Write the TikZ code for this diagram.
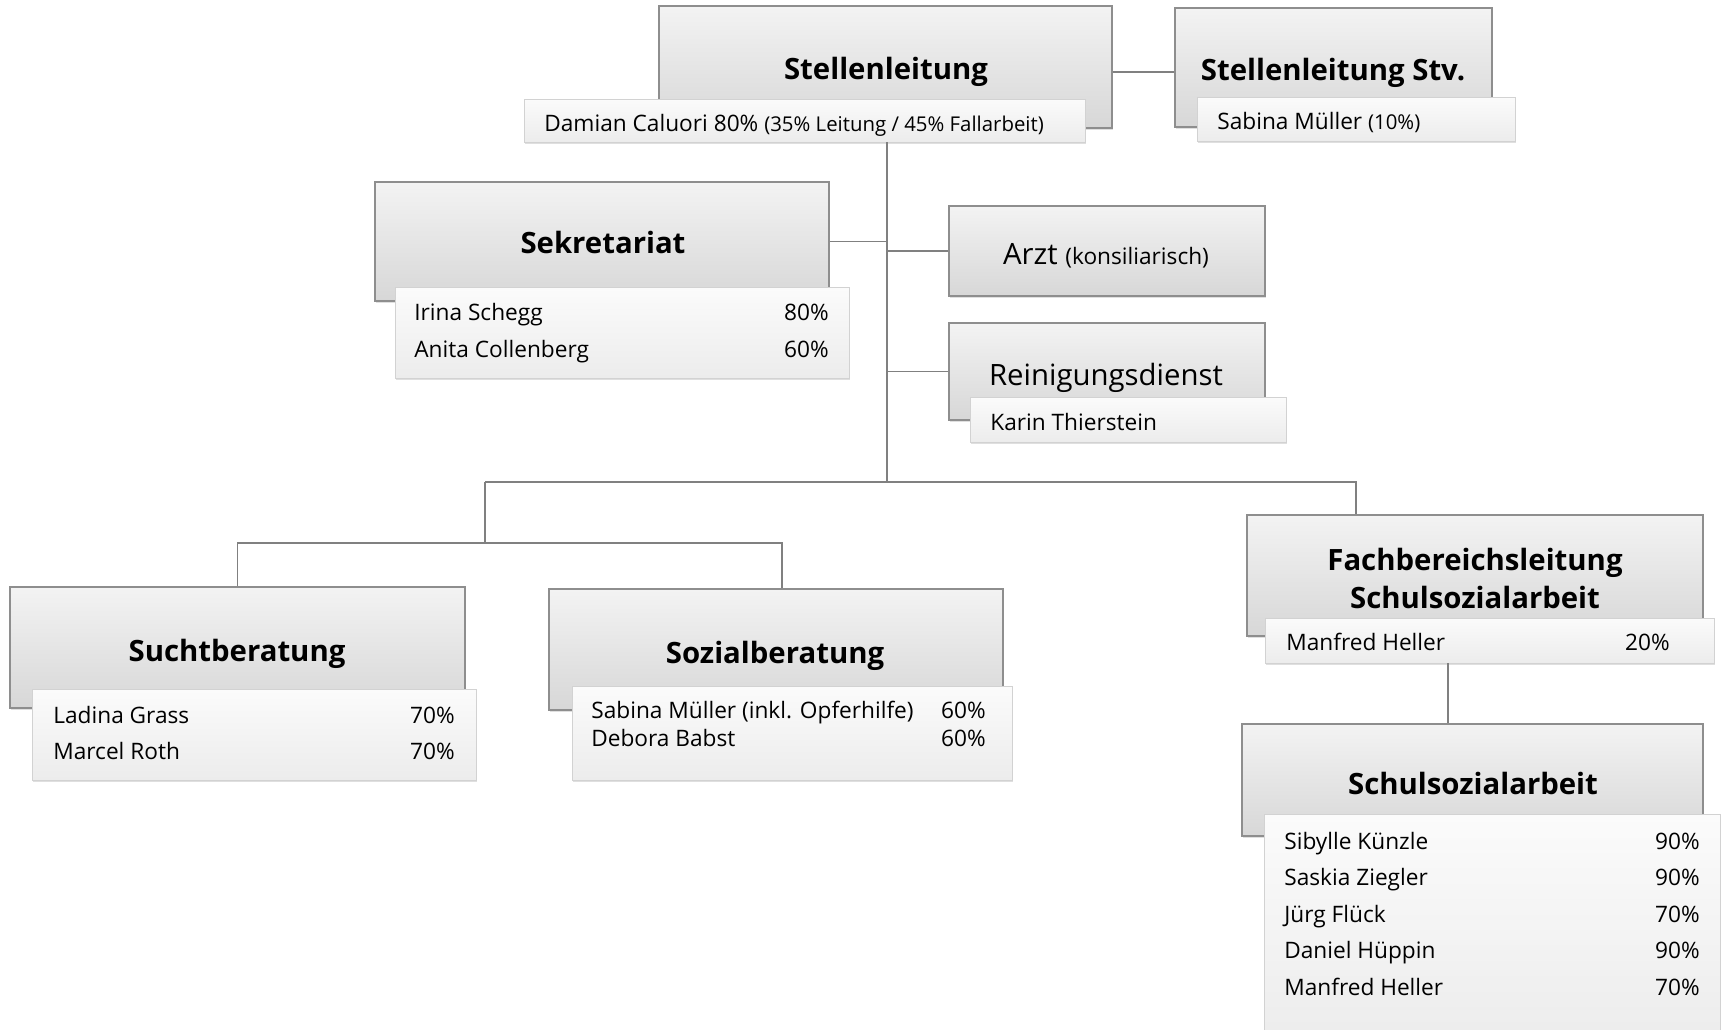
\documentclass[tikz,border=0pt]{standalone}
\usepackage{fontspec}
\setmainfont{Open Sans}
\usepackage{xcolor}
\usetikzlibrary{positioning,shadows,fit}

\definecolor{boxtop}{HTML}{F3F3F3}
\definecolor{boxbot}{HTML}{D7D7D7}
\definecolor{boxline}{HTML}{8E8E8E}
\definecolor{stafftop}{HTML}{FBFBFB}
\definecolor{staffbot}{HTML}{ECECEC}
\definecolor{staffline}{HTML}{D2D2D2}
\definecolor{linkgray}{HTML}{808080}

\newcommand{\titlefont}{\fontsize{16.7}{21.6}\selectfont}
\newcommand{\namefont}{\fontsize{12.9}{15}\selectfont}
\newcommand{\notefont}{\fontsize{11.6}{14}\selectfont}

\begin{document}
\begin{tikzpicture}[x=0.02cm, y=-0.02cm,
  unitbox/.style={draw=boxline, line width=0.6pt, top color=boxtop, bottom color=boxbot,
    inner sep=0pt, drop shadow={opacity=0.25, shadow xshift=0.8pt, shadow yshift=-1.2pt}},
  staffbox/.style={draw=staffline, line width=0.5pt, top color=stafftop, bottom color=staffbot,
    inner sep=0pt, drop shadow={opacity=0.25, shadow xshift=0.6pt, shadow yshift=-1.4pt}},
  unittitle/.style={font=\titlefont\bfseries, anchor=base, inner sep=0pt},
  unitplain/.style={font=\titlefont, anchor=base, inner sep=0pt},
  staffname/.style={font=\namefont, anchor=base west, inner sep=0pt},
  staffpct/.style={font=\namefont, anchor=base east, inner sep=0pt},
  link/.style={draw=linkgray, line width=0.8pt}]
  \fill[white] (0,0) rectangle (1727,1029);
  \useasboundingbox (0,0) rectangle (1727,1029);
  \clip (0,0) rectangle (1727,1029);

  % Leitung
  \node[unitbox, fit={(659,6) (1112,128)}] (sl) {};
  \node[staffbox, fit={(524,99) (1085,142)}] (slstaff) {};
  \node[unitbox, fit={(1175,8) (1492,127)}] (stv) {};
  \node[staffbox, fit={(1197,97) (1515,141)}] (stvstaff) {};

  % Stab
  \node[unitbox, fit={(375,182) (829,301)}] (sek) {};
  \node[staffbox, fit={(395,287) (849,378)}] (sekstaff) {};
  \node[unitbox, fit={(949,206) (1265,296)}] (arzt) {};
  \node[unitbox, fit={(949,323) (1265,420)}] (rein) {};
  \node[staffbox, fit={(970,397) (1286,442)}] (reinstaff) {};

  % Fachbereiche
  \node[unitbox, fit={(10,587) (465,708)}] (sucht) {};
  \node[staffbox, fit={(32,689) (476,780)}] (suchtstaff) {};
  \node[unitbox, fit={(549,589) (1003,710)}] (sozial) {};
  \node[staffbox, fit={(572,686) (1012,780)}] (sozialstaff) {};
  \node[unitbox, fit={(1247,515) (1703,636)}] (fbl) {};
  \node[staffbox, fit={(1265,618) (1714,663)}] (fblstaff) {};
  \node[unitbox, fit={(1242,724) (1703,836)}] (ssa) {};
  \node[staffbox, fit={(1264,814) (1720,1045)}] (ssastaff) {};

  % Titel
  \node[unittitle] (sl-t) at (886,79) {Stellenleitung};
  \node[unittitle] (stv-t) at (1333,80) {Stellenleitung Stv.};
  \node[unittitle] (sek-t) at (603,253) {Sekretariat};
  \node[unitplain] (arzt-t) at (1106,264) {Arzt {\namefont(konsiliarisch)}};
  \node[unitplain] (rein-t) at (1106,385) {Reinigungsdienst};
  \node[unittitle] (sucht-t) at (237,661) {Suchtberatung};
  \node[unittitle] (sozial-t) at (775,663) {Sozialberatung};
  \node[unittitle, align=center] (fbl-t) at (1475,608) {Fachbereichsleitung\\Schulsozialarbeit};
  \node[unittitle] (ssa-t) at (1473,794) {Schulsozialarbeit};

  % Personen
  \node[staffname] (sl-n) at (544,131) {Damian Caluori 80\% {\notefont(35\% Leitung / 45\% Fallarbeit)}};
  \node[staffname] (stv-n) at (1217,129) {Sabina Müller {\notefont(10\%)}};
  \node[staffname] (rein-n) at (990,430) {Karin Thierstein};
  \node[staffname] (fbl-n) at (1286,650) {Manfred Heller};
  \node[staffpct] (fbl-p) at (1670,650) {20\%};
  \foreach \nm/\pc/\yy [count=\i] in {Irina Schegg/80/320, Anita Collenberg/60/357} {
    \node[staffname] (sek-n\i) at (414,\yy) {\nm};
    \node[staffpct] (sek-p\i) at (829,\yy) {\pc\%};
  }
  \foreach \nm/\pc/\yy [count=\i] in {Ladina Grass/70/723, Marcel Roth/70/759} {
    \node[staffname] (sucht-n\i) at (53,\yy) {\nm};
    \node[staffpct] (sucht-p\i) at (455,\yy) {\pc\%};
  }
  \foreach \nm/\pc/\yy [count=\i] in {Sabina Müller (inkl. Opferhilfe)/60/718, Debora Babst/60/746} {
    \node[staffname] (sozial-n\i) at (591,\yy) {\nm};
    \node[staffpct] (sozial-p\i) at (986,\yy) {\pc\%};
  }
  \foreach \nm/\pc [count=\i] in {Sibylle Künzle/90, Saskia Ziegler/90, Jürg Flück/70,
                                  Daniel Hüppin/90, Manfred Heller/70} {
    \node[staffname] (ssa-n\i) at (1284,{812.75+36.5*\i}) {\nm};
    \node[staffpct] (ssa-p\i) at (1700,{812.75+36.5*\i}) {\pc\%};
  }

  % Linien
  \coordinate (trunk-end) at (887,482);
  \coordinate (bus-left) at (485,482);
  \coordinate (bus-right) at (1356,482);
  \coordinate (sub-bus) at (485,543);
  \coordinate (soz-drop) at (782,0);
  \coordinate (ssa-drop) at (1448,0);
  \draw[link] ([yshift=-2.8pt]sl.east) -- ([yshift=-2.8pt]sl.east -| stv.west);
  \draw[link] (trunk-end |- slstaff.south) -- (trunk-end);
  \draw[link] (sek.east) -- (sek.east -| trunk-end);
  \draw[link] (arzt.west) -- (arzt.west -| trunk-end);
  \draw[link] (rein.west) -- (rein.west -| trunk-end);
  \draw[link] (bus-left) -- (bus-right) -- (bus-right |- fbl.north);
  \draw[link] (bus-left) -- (sub-bus);
  \draw[link] (sucht.north) |- (sub-bus) -| (soz-drop |- sozial.north);
  \draw[link] (ssa-drop |- fblstaff.south) -- (ssa-drop |- ssa.north);
\end{tikzpicture}
\end{document}
